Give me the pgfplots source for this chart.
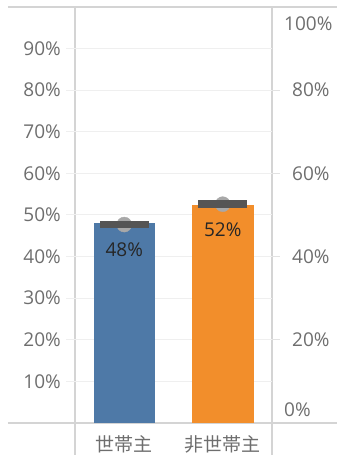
\documentclass[border=0pt]{standalone}
\usepackage{pgfplots}
\pgfplotsset{compat=1.18}
\usepackage{fontspec}
\setmainfont{Open Sans}
\newfontfamily\cjk{Noto Sans CJK JP}
\definecolor{tbblue}{HTML}{4E79A7}
\definecolor{tborange}{HTML}{F28E2B}
\definecolor{gridc}{HTML}{EFEFEF}
\definecolor{tickc}{HTML}{E2E2E2}
\definecolor{linec}{HTML}{D4D4D4}
\definecolor{labc}{HTML}{6E6E6E}
\definecolor{refbar}{HTML}{555555}
\definecolor{refdot}{HTML}{A8A8A8}
\begin{document}
\begin{tikzpicture}
\useasboundingbox (-75pt,-32pt) rectangle (262pt,423pt);
\draw[linec, line width=1.2pt] (-67pt,416pt) -- (262pt,416pt);
\draw[linec, line width=1.2pt] (-67pt,0pt) -- (262pt,0pt);
\draw[linec, line width=1.2pt] (0pt,416pt) -- (0pt,-32pt);
\draw[linec, line width=1.2pt] (197pt,416pt) -- (197pt,-32pt);
\begin{axis}[
 at={(0pt,0pt)}, anchor=south west, scale only axis, width=197pt, height=416pt,
 xmin=-0.5, xmax=1.5, ymin=0, ymax=100,
 axis x line*=bottom, axis y line*=left, axis line style={draw=none},
 xtick={0,1}, xticklabels={世帯主,非世帯主},
 xticklabel style={font=\cjk\fontsize{19}{19}\selectfont, text=labc, anchor=north, inner sep=0pt, yshift=-3pt},
 x tick style={draw=none},
 ytick={10,20,...,90}, yticklabels={10\%,20\%,30\%,40\%,50\%,60\%,70\%,80\%,90\%},
 yticklabel style={font=\fontsize{19}{19}\selectfont, text=labc, anchor=east, inner sep=0pt, xshift=-5pt},
 y tick style={draw=gridc, line width=1pt}, tick align=outside, major tick length=9pt,
 ymajorgrids, grid style={draw=gridc, line width=1pt},
 clip=false,
]
\addplot[ybar, bar width=61pt, fill=tbblue, draw=none, point meta=explicit symbolic, nodes near coords,
  every node near coord/.append style={anchor=north, inner sep=0pt, yshift=-19pt, font=\fontsize{19}{19}\selectfont, text=black!85}]
  coordinates {(0,48.0) [48\%]};
\addplot[ybar, bar width=62pt, fill=tborange, draw=none, point meta=explicit symbolic, nodes near coords,
  every node near coord/.append style={anchor=north, inner sep=0pt, yshift=-18pt, font=\fontsize{19}{19}\selectfont, text=black!85}]
  coordinates {(1,52.4) [52\%]};
\addplot[only marks, color=refdot, mark=*, mark size=7.5pt, mark options={fill=refdot, draw=none}] coordinates {(0,47.7) (1,52.6)};
\addplot[only marks, color=refbar, mark=-, mark size=24.5pt, mark options={draw=refbar, line width=7.5pt}] coordinates {(0,47.7) (1,52.6)};
\end{axis}
\begin{axis}[
 at={(0pt,0pt)}, anchor=south west, scale only axis, width=197pt, height=416pt,
 xmin=-0.5, xmax=1.5, ymin=0, ymax=100,
 axis x line=none, axis y line*=right, axis line style={draw=none},
 ytick={20,40,60,80}, yticklabels={20\%,40\%,60\%,80\%},
 extra y ticks={3.1,96.0}, extra y tick labels={0\%,100\%},
 extra y tick style={major tick length=0pt},
 yticklabel style={font=\fontsize{19}{19}\selectfont, text=labc, anchor=west, inner sep=0pt, xshift=12pt},
 y tick style={draw=tickc, line width=1pt}, tick align=outside, major tick length=8pt,
]
\addplot[draw=none] coordinates {(0,0)};
\end{axis}
\end{tikzpicture}
\end{document}
